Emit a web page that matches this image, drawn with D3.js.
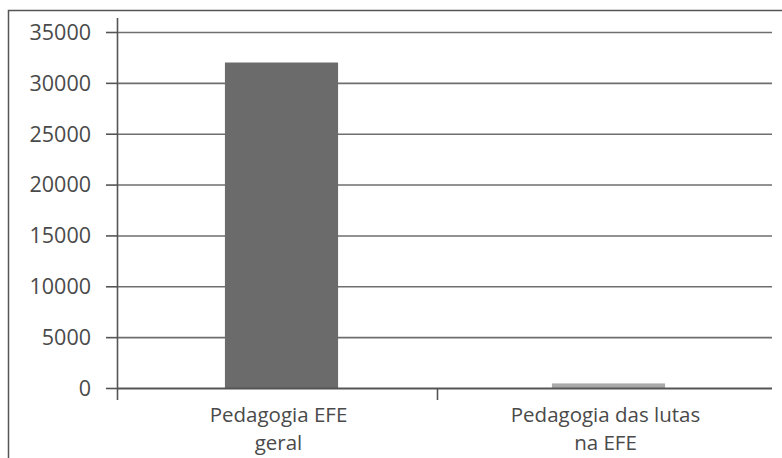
<!DOCTYPE html>
<html>
<head>
<meta charset="utf-8">
<script src="https://cdn.jsdelivr.net/npm/d3@7"></script>
<style>
  html, body { margin: 0; padding: 0; background: #fff; }
  svg { display: block; }
  text { font-family: "Open Sans", sans-serif; fill: #4a4a4a; }
</style>
</head>
<body>
<svg id="chart" width="782" height="458"></svg>
<script>
// Publication counts by theme
const categories = [["Pedagogia EFE", "geral"], ["Pedagogia das lutas", "na EFE"]];
const values = [32000, 450];
const barColors = ["#6b6b6b", "#a9a9a9"];
const yTicks = [0, 5000, 10000, 15000, 20000, 25000, 30000, 35000];

const svg = d3.select("#chart");
const W = 782, H = 458;

// outer frame (open to the right and bottom)
svg.append("path")
  .attr("d", `M8.5,${H} L8.5,10.5 L${W},10.5`)
  .attr("fill", "none").attr("stroke", "#555").attr("stroke-width", 1.5);

const x0 = 118, x1 = 772, xCatEnd = 758, yTop = 32, yBase = 388;

const x = d3.scaleBand().domain(d3.range(categories.length)).range([x0, x1]).paddingInner(0.654).paddingOuter(0.327);
const y = d3.scaleLinear().domain([0, 35000]).range([yBase, yTop]);

// horizontal gridlines
svg.append("g").selectAll("line").data(yTicks.filter(d => d > 0)).join("line")
  .attr("x1", x0).attr("x2", x1)
  .attr("y1", d => y(d) + 0.5).attr("y2", d => y(d) + 0.5)
  .attr("stroke", "#6e6e6e").attr("stroke-width", 1.6);

// bars
svg.append("g").selectAll("rect").data(values).join("rect")
  .attr("x", (d, i) => x(i))
  .attr("width", x.bandwidth())
  .attr("y", d => y(d))
  .attr("height", d => yBase - y(d))
  .attr("fill", (d, i) => barColors[i]);

// y axis
const yAxis = d3.axisLeft(y).tickValues(yTicks).tickSize(12).tickPadding(4).tickFormat(d3.format("d"));
const gy = svg.append("g").attr("transform", `translate(${x0},0)`).call(yAxis);
gy.select(".domain").remove();
gy.selectAll(".tick line").attr("stroke", "#555").attr("stroke-width", 1.6);
gy.selectAll(".tick text").attr("font-size", 21.5).attr("fill", "#4a4a4a")
  .attr("font-family", "Open Sans, sans-serif").attr("x", -27).attr("dy", "0.34em");
svg.append("line").attr("x1", x0 - 0.5).attr("x2", x0 - 0.5).attr("y1", 18).attr("y2", 400)
  .attr("stroke", "#555").attr("stroke-width", 1.6);

// x baseline and category separators
svg.append("line").attr("x1", x0).attr("x2", x1).attr("y1", yBase + 0.5).attr("y2", yBase + 0.5)
  .attr("stroke", "#555").attr("stroke-width", 1.8);
const step = (xCatEnd - x0) / categories.length;
svg.append("g").selectAll("line").data(d3.range(1, categories.length)).join("line")
  .attr("x1", d => x0 + d * step - 0.5).attr("x2", d => x0 + d * step - 0.5)
  .attr("y1", yBase).attr("y2", 400)
  .attr("stroke", "#555").attr("stroke-width", 1.6);

// category labels, centred under each bar
const lab = svg.append("g").selectAll("text").data(categories).join("text")
  .attr("text-anchor", "middle")
  .attr("font-size", 20.5)
  .attr("transform", (d, i) => `translate(${x(i) + x.bandwidth() / 2 - 3},0)`);
lab.selectAll("tspan").data(d => d).join("tspan")
  .attr("x", 0).attr("y", (d, j) => 422 + j * 28).text(d => d);
</script>
</body>
</html>
